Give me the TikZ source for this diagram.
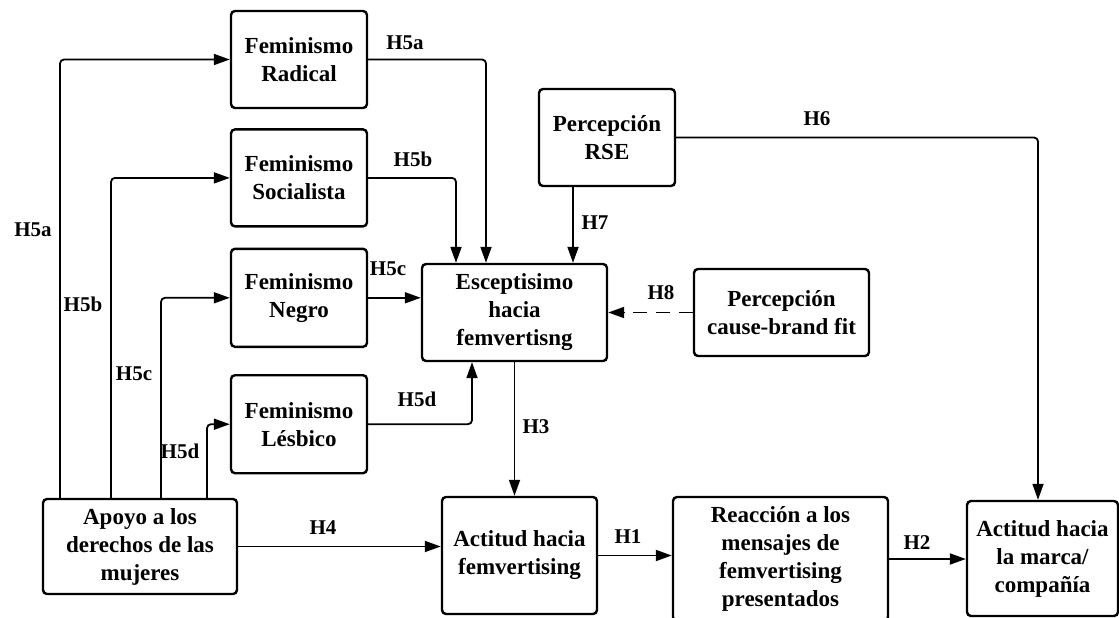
\documentclass[tikz,border=0pt]{standalone}
\usepackage{fontspec}
\setmainfont{Liberation Serif}
\usepackage{tikz}
\usetikzlibrary{
  arrows.meta,
  positioning,
  calc
}
\tikzset{
  % Construct box: rounded, bold serif text
  box/.style={
    rectangle, rounded corners=4pt,
    draw=black, line width=2.4pt,
    inner sep=2pt, align=center,
    font=\fontsize{23}{28}\selectfont\bfseries
  },
  % Arrow
  arr/.style={
    -{Triangle[length=16pt,width=11pt]},
    line width=1.8pt, rounded corners=4pt, color=black
  },
  % Dashed arrow
  darr/.style={
    arr, dash pattern=on 14pt off 9pt
  },
  % Hypothesis label
  lbl/.style={font=\fontsize{21}{25}\selectfont\bfseries, inner sep=0pt}
}

\begin{document}
\begin{tikzpicture}[x=1pt, y=-1pt]
  \useasboundingbox (0,0) rectangle (1119,618);

  % feminism stack
  \node[box, minimum width=136pt, minimum height=97pt] (rad) at (299,59.5) {Feminismo\\Radical};
  \node[box, minimum width=136pt, minimum height=97pt, below=19pt of rad] (soc) {Feminismo\\Socialista};
  \node[box, minimum width=136pt, minimum height=98pt, below=20pt of soc] (neg) {Feminismo\\Negro};
  \node[box, minimum width=136pt, minimum height=98pt, below=26pt of neg] (les) {Feminismo\\Lésbico};

  \node[box, minimum width=136pt, minimum height=97pt] (rse) at (607,137.5) {Percepción\\RSE};
  \node[box, minimum width=185pt, minimum height=97pt] (esc) at (514.5,312.5) {Esceptisimo\\hacia\\femvertisng};
  \node[box, minimum width=175pt, minimum height=87pt] (fit) at (781.5,312.5) {Percepción\\cause-brand fit};

  \node[box, minimum width=194pt, minimum height=95pt] (apo) at (140,546.5) {Apoyo a los\\derechos de las\\mujeres};
  \node[box, minimum width=155pt, minimum height=117pt] (act) at (519.5,555.5) {Actitud hacia\\femvertising};
  \node[box, minimum width=215pt, minimum height=124pt] (rea) at (780.5,559) {Reacción a los\\mensajes de\\femvertising\\presentados};
  \node[box, minimum width=151pt, minimum height=115pt] (mar) at (1042.5,558.5) {Actitud hacia\\la marca/\\compañía};

  % support -> feminisms
  \draw[arr] ([xshift=-80pt]apo.north) |- (rad.west);
  \draw[arr] ([xshift=-29pt]apo.north) |- (soc.west);
  \draw[arr] ([xshift=21pt]apo.north) |- (neg.west);
  \draw[arr] ([xshift=67pt]apo.north) |- (les.west);

  % feminisms -> skepticism
  \draw[arr] (rad.east) -| ([xshift=-28.5pt]esc.north);
  \draw[arr] (soc.east) -| ([xshift=-58.5pt]esc.north);
  \draw[arr] (neg.east) -- (neg.east -| esc.west);
  \draw[arr] (les.east) -| ([xshift=-42.5pt]esc.south);

  \draw[arr] ([xshift=-34pt]rse.south) -- ([xshift=58.5pt]esc.north);
  \draw[darr] (fit.west) -- (esc.east);
  \draw[arr] (rse.east) -| ([xshift=-4.5pt]mar.north);

  % main chain
  \draw[arr] (esc.south) -- (esc.south |- act.north);
  \draw[arr] (apo.east) -- (apo.east -| act.west);
  \draw[arr] (act.east) -- (act.east -| rea.west);
  \draw[arr] (rea.east) -- (rea.east -| mar.west);

  % hypothesis labels
  \node[lbl] (l5a) at (33,230) {H5a};
  \node[lbl] (l5b) at (83,304) {H5b};
  \node[lbl] (l5c) at (134,374) {H5c};
  \node[lbl] (l5d) at (180,451) {H5d};
  \node[lbl] (r5a) at (405,43) {H5a};
  \node[lbl] (r5b) at (413,159) {H5b};
  \node[lbl] (r5c) at (388,269) {H5c};
  \node[lbl] (r5d) at (417,399) {H5d};
  \node[lbl] (l7) at (595,223) {H7};
  \node[lbl] (l8) at (661,293) {H8};
  \node[lbl] (l6) at (817,119) {H6};
  \node[lbl] (l3) at (536,427) {H3};
  \node[lbl] (l4) at (323,528) {H4};
  \node[lbl] (l1) at (628,537) {H1};
  \node[lbl] (l2) at (917,543) {H2};
\end{tikzpicture}
\end{document}
